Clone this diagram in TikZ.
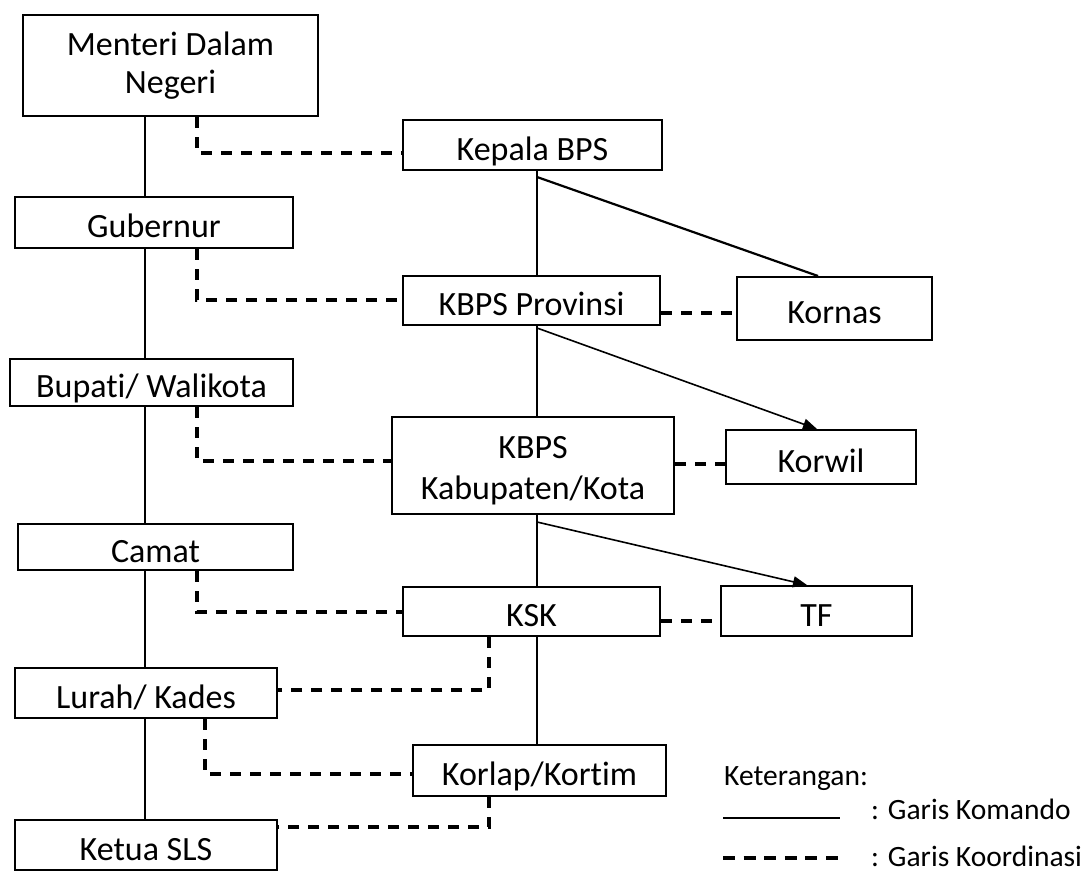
\documentclass[tikz,border=0pt]{standalone}
\usepackage{fontspec}
\setmainfont{Carlito}[Ligatures={NoCommon,NoContextual}]
\usetikzlibrary{arrows.meta}
\begin{document}
\begin{tikzpicture}[x=1pt,y=-1pt,
  box/.style={draw,line width=2pt,fill=white,inner sep=0pt,align=center,font=\fontsize{34}{38}\selectfont},
  onebox/.style={box,text height=30pt,text depth=0pt},
  cmd/.style={line width=2.2pt},
  arr/.style={line width=1.6pt,-{Triangle[length=14pt,width=11pt]}},
  dsh/.style={line width=3.2pt,dash pattern=on 11pt off 9pt},
  lbl/.style={anchor=west,inner sep=0pt,font=\fontsize{29.5}{34}\selectfont}]
\useasboundingbox (0,0) rectangle (1083,886);
% left column
\node[box,minimum width=295pt,minimum height=101pt] (men) at (170.5,65.5) {Menteri Dalam\\Negeri};
\node[onebox,minimum width=278pt,minimum height=51pt] (gub) at (154,222.5) {Gubernur};
\node[onebox,minimum width=283pt,minimum height=47pt] (bup) at (151.5,382.5) {Bupati/ Walikota};
\node[onebox,minimum width=275pt,minimum height=46pt] (cam) at (155.5,547) {Camat};
\node[onebox,minimum width=262pt,minimum height=50pt] (lur) at (146,693) {Lurah/ Kades};
\node[onebox,minimum width=262pt,minimum height=50pt] (ket) at (146,845) {Ketua SLS};
% right column
\node[onebox,minimum width=259pt,minimum height=50pt] (kep) at (532.5,145) {Kepala BPS};
\node[onebox,minimum width=257pt,minimum height=49pt] (prov) at (531.5,300.5) {KBPS Provinsi};
\node[onebox,minimum width=195pt,minimum height=63pt] (korn) at (834.5,308.5) {Kornas};
\node[box,minimum width=282pt,minimum height=97pt,font=\fontsize{34}{41}\selectfont] (kab) at (533,465.5) {\rule{0pt}{33pt}KBPS\\Kabupaten/Kota};
\node[onebox,minimum width=190pt,minimum height=54pt] (korw) at (821,457) {Korwil};
\node[onebox,minimum width=257pt,minimum height=49pt] (ksk) at (531.5,611.5) {KSK};
\node[onebox,minimum width=191pt,minimum height=50pt] (tf) at (816.5,611) {TF};
\node[onebox,minimum width=253pt,minimum height=51pt] (korl) at (539.5,770.5) {Korlap/Kortim};
% helper coordinates
\coordinate (lx) at (145,0);
\coordinate (rx) at (537,0);
\coordinate (c1) at (197,153);
\coordinate (c2) at (197,300);
\coordinate (c3) at (197,461);
\coordinate (c4) at (197,612);
\coordinate (c5) at (489,690);
\coordinate (c6) at (205,774);
\coordinate (c7) at (489,827);
\coordinate (c8) at (0,313);
\coordinate (c9) at (0,464);
\coordinate (c10) at (0,621);
\coordinate (s1) at (537,177);
\coordinate (s2) at (537,328);
\coordinate (s3) at (537,522);
\coordinate (e1) at (818,0);
\coordinate (e2) at (817,0);
\coordinate (e3) at (807,0);
% command lines left
\draw[cmd] (men.south -| lx) -- (gub.north -| lx);
\draw[cmd] (gub.south -| lx) -- (bup.north -| lx);
\draw[cmd] (bup.south -| lx) -- (cam.north -| lx);
\draw[cmd] (cam.south -| lx) -- (lur.north -| lx);
\draw[cmd] (lur.south -| lx) -- (ket.north -| lx);
% command lines right
\draw[cmd] (kep.south -| rx) -- (prov.north -| rx);
\draw[cmd] (prov.south -| rx) -- (kab.north -| rx);
\draw[cmd] (kab.south -| rx) -- (ksk.north -| rx);
\draw[cmd] (ksk.south -| rx) -- (korl.north -| rx);
% diagonals
\draw[cmd] (s1) -- (korn.north -| e1);
\draw[arr] (s2) -- (korw.north -| e2);
\draw[arr] (s3) -- (tf.north -| e3);
% coordination lines
\draw[dsh] (men.south -| c1) |- (kep.west |- c1);
\draw[dsh] (gub.south -| c2) |- (prov.west |- c2);
\draw[dsh] (bup.south -| c3) |- (kab.west |- c3);
\draw[dsh] (cam.south -| c4) |- (ksk.west |- c4);
\draw[dsh] (ksk.south -| c5) |- (lur.east |- c5);
\draw[dsh] (lur.south -| c6) |- (korl.west |- c6);
\draw[dsh] (korl.south -| c7) |- (ket.east |- c7);
\draw[dsh] (prov.east |- c8) -- (korn.west |- c8);
\draw[dsh] (kab.east |- c9) -- (korw.west |- c9);
\draw[dsh] (ksk.east |- c10) -- (tf.west |- c10);
% legend
\node[lbl] (leg) at (724,779) {Keterangan:};
\node[lbl] (lk) at (871,809) {: Garis Komando};
\node[lbl] (lc) at (871,856) {: Garis Koordinasi};
\coordinate (la) at (723,818);
\coordinate (lb) at (840,818);
\coordinate (ld) at (723,858);
\coordinate (le) at (840,858);
\draw[cmd] (la) -- (lb);
\draw[line width=3.2pt,dash pattern=on 12pt off 8.6pt] (ld) -- (le);
\end{tikzpicture}
\end{document}
